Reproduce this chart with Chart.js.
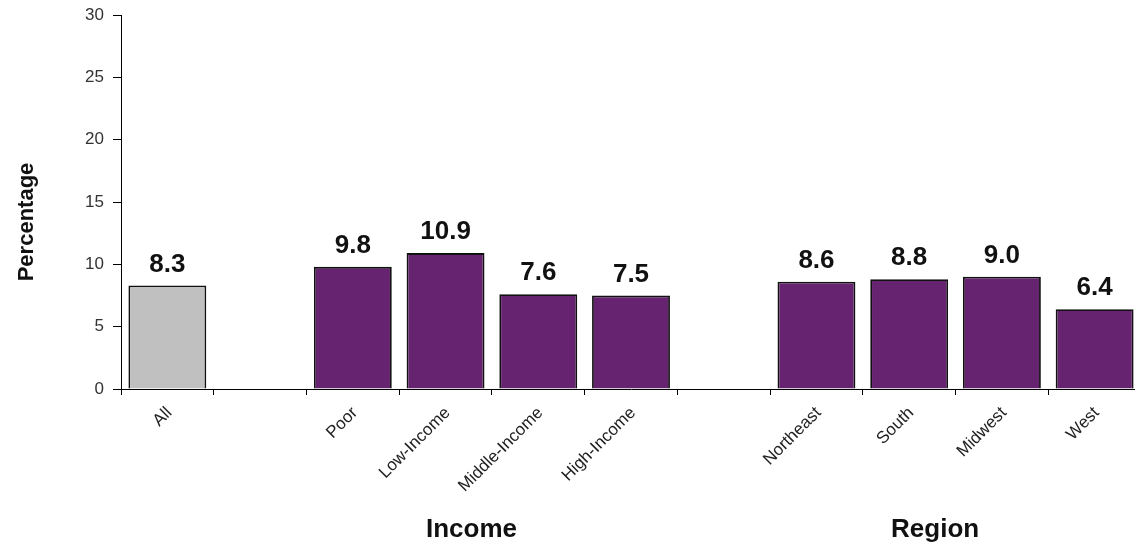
<!DOCTYPE html>
<html>
<head>
<meta charset="utf-8">
<script src="https://cdn.jsdelivr.net/npm/chart.js@4"></script>
<style>
  html, body { margin: 0; padding: 0; background: #fff; overflow: hidden; }
  #wrap { width: 1141px; height: 548px; }
</style>
</head>
<body>
<div id="wrap"><canvas id="chart"></canvas></div>
<script>
// Категории (пустые строки — промежутки между группами)
const categories = ['All', '', 'Poor', 'Low-Income', 'Middle-Income', 'High-Income', '', 'Northeast', 'South', 'Midwest', 'West'];
// Значения, %
const values = [8.3, null, 9.8, 10.9, 7.6, 7.5, null, 8.6, 8.8, 9.0, 6.4];
// Подписи оси Y
const yTicks = [0, 5, 10, 15, 20, 25, 30];
// Группы под осью X
const groupNames = ['Income', 'Region'];
const groupRanges = [[2, 5], [7, 10]];
const yTitle = 'Percentage';

const purple = '#66236f';
const grey = '#c0c0c0';
const barColors = categories.map((c, i) => (i === 0 ? grey : purple));
const fontFamily = '"Liberation Sans", Arial, sans-serif';

// Подписи значений над столбцами
const valueLabels = {
    id: 'valueLabels',
    afterDatasetsDraw(chart) {
        const ctx = chart.ctx;
        const meta = chart.getDatasetMeta(0);
        ctx.save();
        ctx.font = 'bold 26px ' + fontFamily;
        ctx.fillStyle = '#111';
        ctx.textAlign = 'center';
        ctx.textBaseline = 'alphabetic';
        meta.data.forEach((bar, i) => {
            if (values[i] == null) return;
            ctx.fillText(values[i].toFixed(1), bar.x, bar.y - 14);
        });
        ctx.restore();
    }
};

// Названия групп и подпись оси Y
const extraLabels = {
    id: 'extraLabels',
    afterDraw(chart) {
        const ctx = chart.ctx;
        const x = chart.scales.x;
        const area = chart.chartArea;
        const step = x.getPixelForValue(1) - x.getPixelForValue(0);
        ctx.save();
        ctx.font = 'bold 26px ' + fontFamily;
        ctx.fillStyle = '#111';
        ctx.textAlign = 'center';
        ctx.textBaseline = 'middle';
        groupNames.forEach((name, i) => {
            const mid = (groupRanges[i][0] + groupRanges[i][1]) / 2;
            ctx.fillText(name, x.getPixelForValue(mid) - step * 0.22, 530);
        });
        // Подпись оси Y — чуть ниже центра, как в оригинале
        ctx.font = 'bold 22px ' + fontFamily;
        ctx.translate(27, (area.top + area.bottom) / 2 + 20);
        ctx.rotate(-Math.PI / 2);
        ctx.fillText(yTitle, 0, 0);
        ctx.restore();
    }
};

new Chart(document.getElementById('chart'), {
    type: 'bar',
    data: {
        labels: categories,
        datasets: [{
            data: values,
            backgroundColor: barColors,
            borderColor: '#111',
            borderWidth: 1.8,
            barPercentage: 0.84,
            categoryPercentage: 1,
        }],
    },
    options: {
        responsive: true,
        maintainAspectRatio: false,
        animation: false,
        layout: { padding: { top: 15, right: 0, left: 0, bottom: 0 } },
        plugins: {
            legend: { display: false },
            tooltip: { enabled: false },
        },
        scales: {
            x: {
                afterFit: s => { s.height = 159; },
                grid: {
                    offset: true,
                    drawOnChartArea: false,
                    color: '#000',
                    tickLength: 6,
                },
                border: { color: '#000', width: 1 },
                ticks: {
                    minRotation: 45,
                    maxRotation: 45,
                    autoSkip: false,
                    padding: 8,
                    labelOffset: 2,
                    color: '#222',
                    font: { family: fontFamily, size: 17 },
                },
            },
            y: {
                min: 0,
                max: 30,
                afterFit: s => {
                    s.width = 121;
                    s.paddingTop = 0;
                    s.paddingBottom = 0;
                },
                afterBuildTicks: s => { s.ticks = yTicks.map(v => ({ value: v })); },
                grid: {
                    drawOnChartArea: false,
                    color: '#000',
                    tickLength: 8,
                },
                border: { color: '#000', width: 1 },
                ticks: {
                    padding: 9,
                    color: '#333',
                    font: { family: fontFamily, size: 17 },
                },
            },
        },
    },
    plugins: [valueLabels, extraLabels],
});
</script>
</body>
</html>
